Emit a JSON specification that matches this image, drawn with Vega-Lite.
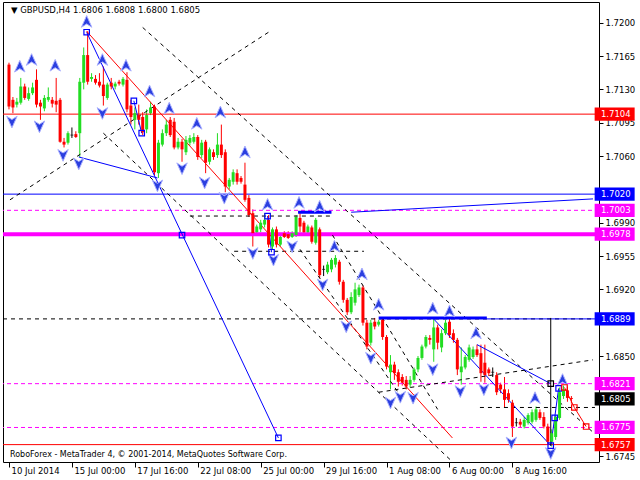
{
"$schema": "https://vega.github.io/schema/vega-lite/v6.json",
"width": 596, "height": 460,
"autosize": {"type": "none"},
"padding": {"left": 3, "top": 2, "right": 41, "bottom": 18},
"background": "white",
"config": {
  "view": {"stroke": "black", "strokeWidth": 1},
  "axis": {"labelFont": "DejaVu Sans", "labelFontSize": 8.5, "labelColor": "black", "tickColor": "black", "domain": false, "grid": false, "labelOverlap": false},
  "axisY": {"labelOverlap": false},
  "axisQuantitative": {"labelOverlap": false}
},
"datasets": {
  "candles": [
{"i":0,"o":1.7156,"h":1.7158,"l":1.7109,"c":1.7112},
{"i":1,"o":1.7119,"h":1.7122,"l":1.7105,"c":1.7111},
{"i":2,"o":1.7114,"h":1.7121,"l":1.7111,"c":1.7117},
{"i":3,"o":1.7116,"h":1.7142,"l":1.7114,"c":1.7133},
{"i":4,"o":1.7133,"h":1.7136,"l":1.7119,"c":1.7121},
{"i":5,"o":1.7120,"h":1.7132,"l":1.7118,"c":1.7126},
{"i":6,"o":1.7126,"h":1.7137,"l":1.7124,"c":1.7132},
{"i":7,"o":1.7140,"h":1.7151,"l":1.7111,"c":1.7114},
{"i":8,"o":1.7116,"h":1.7119,"l":1.7098,"c":1.7112},
{"i":9,"o":1.7110,"h":1.7124,"l":1.7107,"c":1.7121},
{"i":10,"o":1.7119,"h":1.7132,"l":1.7117,"c":1.7122},
{"i":11,"o":1.7119,"h":1.7122,"l":1.7111,"c":1.7115},
{"i":12,"o":1.7118,"h":1.7142,"l":1.7106,"c":1.7114},
{"i":13,"o":1.7119,"h":1.7121,"l":1.7074,"c":1.7075},
{"i":14,"o":1.7075,"h":1.7079,"l":1.7069,"c":1.7072},
{"i":15,"o":1.7074,"h":1.7086,"l":1.7072,"c":1.7084},
{"i":16,"o":1.7082,"h":1.7090,"l":1.7079,"c":1.7082},
{"i":17,"o":1.7083,"h":1.7086,"l":1.7079,"c":1.7080},
{"i":18,"o":1.7084,"h":1.7142,"l":1.7059,"c":1.7138},
{"i":19,"o":1.7137,"h":1.7174,"l":1.7130,"c":1.7166},
{"i":20,"o":1.7166,"h":1.7191,"l":1.7135,"c":1.7138},
{"i":21,"o":1.7141,"h":1.7147,"l":1.7138,"c":1.7143},
{"i":22,"o":1.7141,"h":1.7145,"l":1.7135,"c":1.7137},
{"i":23,"o":1.7138,"h":1.7147,"l":1.7132,"c":1.7134},
{"i":24,"o":1.7135,"h":1.7154,"l":1.7113,"c":1.7123},
{"i":25,"o":1.7121,"h":1.7137,"l":1.7119,"c":1.7135},
{"i":26,"o":1.7137,"h":1.7142,"l":1.7130,"c":1.7133},
{"i":27,"o":1.7133,"h":1.7138,"l":1.7130,"c":1.7136},
{"i":28,"o":1.7138,"h":1.7140,"l":1.7134,"c":1.7136},
{"i":29,"o":1.7135,"h":1.7143,"l":1.7133,"c":1.7141},
{"i":30,"o":1.7140,"h":1.7148,"l":1.7106,"c":1.7109},
{"i":31,"o":1.7113,"h":1.7119,"l":1.7093,"c":1.7101},
{"i":32,"o":1.7098,"h":1.7111,"l":1.7088,"c":1.7105},
{"i":33,"o":1.7103,"h":1.7114,"l":1.7093,"c":1.7098},
{"i":34,"o":1.7101,"h":1.7106,"l":1.7082,"c":1.7085},
{"i":35,"o":1.7088,"h":1.7109,"l":1.7084,"c":1.7103},
{"i":36,"o":1.7105,"h":1.7117,"l":1.7103,"c":1.7111},
{"i":37,"o":1.7112,"h":1.7114,"l":1.7040,"c":1.7043},
{"i":38,"o":1.7042,"h":1.7077,"l":1.7037,"c":1.7074},
{"i":39,"o":1.7072,"h":1.7088,"l":1.7070,"c":1.7084},
{"i":40,"o":1.7084,"h":1.7098,"l":1.7081,"c":1.7093},
{"i":41,"o":1.7098,"h":1.7101,"l":1.7080,"c":1.7082},
{"i":42,"o":1.7096,"h":1.7100,"l":1.7067,"c":1.7069},
{"i":43,"o":1.7069,"h":1.7079,"l":1.7067,"c":1.7075},
{"i":44,"o":1.7075,"h":1.7078,"l":1.7054,"c":1.7067},
{"i":45,"o":1.7064,"h":1.7081,"l":1.7061,"c":1.7077},
{"i":46,"o":1.7074,"h":1.7082,"l":1.7071,"c":1.7079},
{"i":47,"o":1.7075,"h":1.7084,"l":1.7073,"c":1.7080},
{"i":48,"o":1.7080,"h":1.7082,"l":1.7056,"c":1.7059},
{"i":49,"o":1.7061,"h":1.7077,"l":1.7058,"c":1.7074},
{"i":50,"o":1.7075,"h":1.7077,"l":1.7042,"c":1.7053},
{"i":51,"o":1.7054,"h":1.7069,"l":1.7051,"c":1.7067},
{"i":52,"o":1.7064,"h":1.7067,"l":1.7056,"c":1.7059},
{"i":53,"o":1.7061,"h":1.7084,"l":1.7058,"c":1.7072},
{"i":54,"o":1.7072,"h":1.7093,"l":1.7058,"c":1.7061},
{"i":55,"o":1.7064,"h":1.7067,"l":1.7022,"c":1.7028},
{"i":56,"o":1.7028,"h":1.7037,"l":1.7025,"c":1.7035},
{"i":57,"o":1.7033,"h":1.7046,"l":1.7030,"c":1.7043},
{"i":58,"o":1.7042,"h":1.7046,"l":1.7030,"c":1.7033},
{"i":59,"o":1.7037,"h":1.7039,"l":1.7031,"c":1.7033},
{"i":60,"o":1.7030,"h":1.7053,"l":1.7012,"c":1.7014},
{"i":61,"o":1.7016,"h":1.7019,"l":1.6996,"c":1.6998},
{"i":62,"o":1.7000,"h":1.7004,"l":1.6965,"c":1.6979},
{"i":63,"o":1.6980,"h":1.6988,"l":1.6978,"c":1.6986},
{"i":64,"o":1.6983,"h":1.6993,"l":1.6980,"c":1.6990},
{"i":65,"o":1.6988,"h":1.7000,"l":1.6985,"c":1.6993},
{"i":66,"o":1.6993,"h":1.6998,"l":1.6964,"c":1.6967},
{"i":67,"o":1.6965,"h":1.6985,"l":1.6962,"c":1.6983},
{"i":68,"o":1.6983,"h":1.6986,"l":1.6964,"c":1.6967},
{"i":69,"o":1.6967,"h":1.6977,"l":1.6965,"c":1.6975},
{"i":70,"o":1.6979,"h":1.6981,"l":1.6974,"c":1.6975},
{"i":71,"o":1.6978,"h":1.6981,"l":1.6973,"c":1.6974},
{"i":72,"o":1.6975,"h":1.6981,"l":1.6974,"c":1.6979},
{"i":73,"o":1.6977,"h":1.6998,"l":1.6975,"c":1.6996},
{"i":74,"o":1.6995,"h":1.7000,"l":1.6980,"c":1.6986},
{"i":75,"o":1.6990,"h":1.6992,"l":1.6977,"c":1.6980},
{"i":76,"o":1.6980,"h":1.6988,"l":1.6978,"c":1.6986},
{"i":77,"o":1.6985,"h":1.6987,"l":1.6968,"c":1.6970},
{"i":78,"o":1.6969,"h":1.6995,"l":1.6967,"c":1.6993},
{"i":79,"o":1.6983,"h":1.6985,"l":1.6932,"c":1.6935},
{"i":80,"o":1.6941,"h":1.6945,"l":1.6934,"c":1.6941},
{"i":81,"o":1.6938,"h":1.6949,"l":1.6936,"c":1.6946},
{"i":82,"o":1.6941,"h":1.6953,"l":1.6938,"c":1.6951},
{"i":83,"o":1.6946,"h":1.6956,"l":1.6943,"c":1.6953},
{"i":84,"o":1.6949,"h":1.6951,"l":1.6925,"c":1.6928},
{"i":85,"o":1.6928,"h":1.6930,"l":1.6906,"c":1.6909},
{"i":86,"o":1.6909,"h":1.6911,"l":1.6893,"c":1.6896},
{"i":87,"o":1.6896,"h":1.6917,"l":1.6894,"c":1.6912},
{"i":88,"o":1.6906,"h":1.6927,"l":1.6903,"c":1.6920},
{"i":89,"o":1.6914,"h":1.6925,"l":1.6912,"c":1.6922},
{"i":90,"o":1.6922,"h":1.6924,"l":1.6882,"c":1.6885},
{"i":91,"o":1.6885,"h":1.6888,"l":1.6857,"c":1.6860},
{"i":92,"o":1.6864,"h":1.6888,"l":1.6861,"c":1.6885},
{"i":93,"o":1.6886,"h":1.6890,"l":1.6878,"c":1.6881},
{"i":94,"o":1.6883,"h":1.6888,"l":1.6881,"c":1.6886},
{"i":95,"o":1.6888,"h":1.6890,"l":1.6867,"c":1.6870},
{"i":96,"o":1.6870,"h":1.6872,"l":1.6836,"c":1.6839},
{"i":97,"o":1.6833,"h":1.6851,"l":1.6815,"c":1.6841},
{"i":98,"o":1.6841,"h":1.6844,"l":1.6825,"c":1.6832},
{"i":99,"o":1.6833,"h":1.6836,"l":1.6818,"c":1.6823},
{"i":100,"o":1.6828,"h":1.6831,"l":1.6819,"c":1.6822},
{"i":101,"o":1.6825,"h":1.6829,"l":1.6815,"c":1.6818},
{"i":102,"o":1.6820,"h":1.6829,"l":1.6817,"c":1.6825},
{"i":103,"o":1.6825,"h":1.6838,"l":1.6823,"c":1.6836},
{"i":104,"o":1.6836,"h":1.6850,"l":1.6833,"c":1.6848},
{"i":105,"o":1.6848,"h":1.6862,"l":1.6846,"c":1.6860},
{"i":106,"o":1.6860,"h":1.6872,"l":1.6858,"c":1.6870},
{"i":107,"o":1.6869,"h":1.6872,"l":1.6862,"c":1.6867},
{"i":108,"o":1.6857,"h":1.6890,"l":1.6844,"c":1.6880},
{"i":109,"o":1.6880,"h":1.6883,"l":1.6857,"c":1.6864},
{"i":110,"o":1.6859,"h":1.6878,"l":1.6854,"c":1.6874},
{"i":111,"o":1.6874,"h":1.6888,"l":1.6872,"c":1.6885},
{"i":112,"o":1.6886,"h":1.6890,"l":1.6869,"c":1.6872},
{"i":113,"o":1.6874,"h":1.6878,"l":1.6864,"c":1.6867},
{"i":114,"o":1.6867,"h":1.6869,"l":1.6830,"c":1.6836},
{"i":115,"o":1.6833,"h":1.6859,"l":1.6820,"c":1.6839},
{"i":116,"o":1.6838,"h":1.6851,"l":1.6836,"c":1.6849},
{"i":117,"o":1.6846,"h":1.6862,"l":1.6844,"c":1.6859},
{"i":118,"o":1.6849,"h":1.6860,"l":1.6847,"c":1.6857},
{"i":119,"o":1.6857,"h":1.6862,"l":1.6849,"c":1.6851},
{"i":120,"o":1.6853,"h":1.6862,"l":1.6823,"c":1.6832},
{"i":121,"o":1.6843,"h":1.6862,"l":1.6822,"c":1.6830},
{"i":122,"o":1.6836,"h":1.6838,"l":1.6829,"c":1.6832},
{"i":123,"o":1.6833,"h":1.6838,"l":1.6828,"c":1.6833},
{"i":124,"o":1.6830,"h":1.6833,"l":1.6809,"c":1.6812},
{"i":125,"o":1.6820,"h":1.6822,"l":1.6811,"c":1.6815},
{"i":126,"o":1.6815,"h":1.6828,"l":1.6796,"c":1.6804},
{"i":127,"o":1.6811,"h":1.6815,"l":1.6801,"c":1.6804},
{"i":128,"o":1.6801,"h":1.6804,"l":1.6765,"c":1.6776},
{"i":129,"o":1.6780,"h":1.6785,"l":1.6776,"c":1.6780},
{"i":130,"o":1.6781,"h":1.6784,"l":1.6775,"c":1.6778},
{"i":131,"o":1.6776,"h":1.6786,"l":1.6774,"c":1.6783},
{"i":132,"o":1.6780,"h":1.6790,"l":1.6778,"c":1.6788},
{"i":133,"o":1.6781,"h":1.6794,"l":1.6779,"c":1.6791},
{"i":134,"o":1.6783,"h":1.6797,"l":1.6781,"c":1.6794},
{"i":135,"o":1.6791,"h":1.6794,"l":1.6783,"c":1.6785},
{"i":136,"o":1.6786,"h":1.6791,"l":1.6774,"c":1.6776},
{"i":137,"o":1.6776,"h":1.6779,"l":1.6757,"c":1.6760},
{"i":138,"o":1.6760,"h":1.6773,"l":1.6755,"c":1.6769},
{"i":139,"o":1.6765,"h":1.6788,"l":1.6762,"c":1.6786},
{"i":140,"o":1.6785,"h":1.6817,"l":1.6783,"c":1.6812},
{"i":141,"o":1.6808,"h":1.6819,"l":1.6805,"c":1.6815},
{"i":142,"o":1.6814,"h":1.6818,"l":1.6802,"c":1.6806},
{"i":143,"o":1.6806,"h":1.6808,"l":1.6800,"c":1.6805}
  ]
},
"layer": [
  {
    "data": {"name": "candles"},
    "mark": {"type": "rule", "strokeWidth": 1},
    "encoding": {
      "x": {"field": "i", "type": "quantitative", "title": null,
            "scale": {"domain": [-0.25, 148.75], "nice": false, "zero": false},
            "axis": {"orient": "bottom", "values": [0,16,32,48,64,80,96,112,128], "tickSize": 5, "labelPadding": -1, "labelAlign": "left", "labelOffset": 2, "labelFlush": false, "labelOverlap": false, "labelBound": false,
                     "labelExpr": "['10 Jul 2014','15 Jul 00:00','17 Jul 16:00','22 Jul 08:00','25 Jul 00:00','29 Jul 16:00','1 Aug 08:00','6 Aug 00:00','8 Aug 16:00'][round(datum.value/16)]"}},
      "y": {"field": "l", "type": "quantitative", "title": null,
            "scale": {"domain": [1.673875, 1.722173], "nice": false, "zero": false},
            "axis": {"orient": "right", "values": [1.6745,1.685,1.692,1.6955,1.699,1.706,1.7095,1.713,1.7165,1.72], "format": ".4f", "tickSize": 4, "labelPadding": 2, "labelFlush": false, "labelOverlap": false, "labelSeparation": 0}},
      "y2": {"field": "h"},
      "color": {"condition": [{"test": "datum.c == datum.o", "value": "black"}, {"test": "datum.c > datum.o", "value": "#22dd22"}], "value": "#ff0000"}
    }
  },
  {
    "data": {"values": [{"p": 1.7104}, {"p": 1.6757}]},
    "mark": {"type": "rule", "color": "#ff0000", "strokeWidth": 1},
    "encoding": {"y": {"field": "p", "type": "quantitative", "title": null}}
  },
  {
    "data": {"values": [{"p": 1.7020}]},
    "mark": {"type": "rule", "color": "#0000ff", "strokeWidth": 1},
    "encoding": {"y": {"field": "p", "type": "quantitative", "title": null}}
  },
  {
    "data": {"values": [{"p": 1.7003}, {"p": 1.6821}, {"p": 1.6775}]},
    "mark": {"type": "rule", "color": "#ff00ff", "strokeWidth": 1, "strokeDash": [4, 3]},
    "encoding": {"y": {"field": "p", "type": "quantitative", "title": null}}
  },
  {
    "data": {"values": [{"p": 1.6978}]},
    "mark": {"type": "rule", "color": "#ff00ff", "strokeWidth": 4},
    "encoding": {"y": {"field": "p", "type": "quantitative", "title": null}}
  },
  {
    "data": {"values": [{"p": 1.6889}]},
    "mark": {"type": "rule", "color": "black", "strokeWidth": 1, "strokeDash": [4, 4]},
    "encoding": {"y": {"field": "p", "type": "quantitative", "title": null}}
  },
  {
    "data": {"values": [
      {"i1": 0.25, "p1": 1.7014, "i2": 66, "p2": 1.7190},
      {"i1": 34, "p1": 1.7195, "i2": 148.5, "p2": 1.6770},
      {"i1": 24, "p1": 1.7084, "i2": 112.75, "p2": 1.6739},
      {"i1": 74, "p1": 1.6962, "i2": 100.25, "p2": 1.6804},
      {"i1": 82.25, "p1": 1.6977, "i2": 109, "p2": 1.6794},
      {"i1": 94, "p1": 1.6812, "i2": 148.5, "p2": 1.6846},
      {"i1": 46, "p1": 1.6997, "i2": 82.25, "p2": 1.6997},
      {"i1": 57.25, "p1": 1.6960, "i2": 90.25, "p2": 1.6960},
      {"i1": 119.75, "p1": 1.6796, "i2": 149, "p2": 1.6796}
    ]},
    "mark": {"type": "rule", "color": "black", "strokeWidth": 1, "strokeDash": [4, 4], "clip": true},
    "encoding": {
      "x": {"field": "i1", "type": "quantitative", "title": null}, "x2": {"field": "i2"},
      "y": {"field": "p1", "type": "quantitative", "title": null}, "y2": {"field": "p2"}
    }
  },
  {
    "data": {"values": [
      {"i1": 19.75, "p1": 1.7190, "i2": 68.5, "p2": 1.6764},
      {"i1": 17.75, "p1": 1.7059, "i2": 37.75, "p2": 1.7037},
      {"i1": 31.75, "p1": 1.7118, "i2": 33.75, "p2": 1.7084},
      {"i1": 87, "p1": 1.7001, "i2": 148.5, "p2": 1.7015},
      {"i1": 107.75, "p1": 1.6890, "i2": 137.75, "p2": 1.6756},
      {"i1": 119, "p1": 1.6862, "i2": 137.75, "p2": 1.6821},
      {"i1": 121.5, "p1": 1.6889, "i2": 149, "p2": 1.6889},
      {"i1": 65.75, "p1": 1.6997, "i2": 66.75, "p2": 1.6959},
      {"i1": 137.75, "p1": 1.6756, "i2": 138.75, "p2": 1.6785},
      {"i1": 138.75, "p1": 1.6785, "i2": 139.75, "p2": 1.6816}
    ]},
    "mark": {"type": "rule", "color": "#0000ff", "strokeWidth": 1, "clip": true},
    "encoding": {
      "x": {"field": "i1", "type": "quantitative", "title": null}, "x2": {"field": "i2"},
      "y": {"field": "p1", "type": "quantitative", "title": null}, "y2": {"field": "p2"}
    }
  },
  {
    "data": {"values": [
      {"i1": 73.5, "p1": 1.7001, "i2": 82, "p2": 1.7001},
      {"i1": 94, "p1": 1.6890, "i2": 121.5, "p2": 1.6890}
    ]},
    "mark": {"type": "rule", "color": "#0000ff", "strokeWidth": 3, "clip": true},
    "encoding": {
      "x": {"field": "i1", "type": "quantitative", "title": null}, "x2": {"field": "i2"},
      "y": {"field": "p1", "type": "quantitative", "title": null}, "y2": {"field": "p2"}
    }
  },
  {
    "data": {"values": [
      {"i1": 137.75, "p1": 1.6890, "i2": 137.75, "p2": 1.6756}
    ]},
    "mark": {"type": "rule", "color": "black", "strokeWidth": 1, "clip": true},
    "encoding": {
      "x": {"field": "i1", "type": "quantitative", "title": null}, "x2": {"field": "i2"},
      "y": {"field": "p1", "type": "quantitative", "title": null}, "y2": {"field": "p2"}
    }
  },
  {
    "data": {"values": [
      {"i1": 19.75, "p1": 1.7191, "i2": 112.75, "p2": 1.6764},
      {"i1": 141.25, "p1": 1.6817, "i2": 143.75, "p2": 1.6796},
      {"i1": 143.75, "p1": 1.6796, "i2": 146.75, "p2": 1.6776}
    ]},
    "mark": {"type": "rule", "color": "#ff0000", "strokeWidth": 1, "clip": true},
    "encoding": {
      "x": {"field": "i1", "type": "quantitative", "title": null}, "x2": {"field": "i2"},
      "y": {"field": "p1", "type": "quantitative", "title": null}, "y2": {"field": "p2"}
    }
  },
  {
    "data": {"name": "candles"},
    "mark": {"type": "bar", "size": 3},
    "encoding": {
      "x": {"field": "i", "type": "quantitative", "title": null},
      "y": {"field": "o", "type": "quantitative", "title": null},
      "y2": {"field": "c"},
      "color": {"condition": [{"test": "datum.c > datum.o", "value": "#22dd22"}], "value": "#ff0000"}
    }
  },
  {
    "data": {"name": "candles"},
    "transform": [{"filter": "datum.o == datum.c"}],
    "mark": {"type": "tick", "orient": "horizontal", "size": 3, "thickness": 1, "color": "black"},
    "encoding": {
      "x": {"field": "i", "type": "quantitative", "title": null},
      "y": {"field": "o", "type": "quantitative", "title": null}
    }
  },
  {
    "data": {"values": [
      {"i": 2.75, "p": 1.7154}, {"i": 5.75, "p": 1.7161}, {"i": 11.75, "p": 1.7155}, {"i": 19.75, "p": 1.7201},
      {"i": 23.75, "p": 1.7161}, {"i": 29.75, "p": 1.7155}, {"i": 35.75, "p": 1.7128}, {"i": 40.75, "p": 1.7110},
      {"i": 47.75, "p": 1.7094}, {"i": 53.75, "p": 1.7106}, {"i": 60, "p": 1.7064}, {"i": 65.75, "p": 1.7009},
      {"i": 73.75, "p": 1.7011}, {"i": 79, "p": 1.7007}, {"i": 82.75, "p": 1.6965}, {"i": 89.75, "p": 1.6936},
      {"i": 94, "p": 1.6904}, {"i": 107.75, "p": 1.6900}, {"i": 112, "p": 1.6897}, {"i": 118.75, "p": 1.6874},
      {"i": 133.75, "p": 1.6806}, {"i": 140.75, "p": 1.6825}
    ]},
    "mark": {"type": "point", "shape": "M0,-1 L0.85,0.9 L0,0.35 L-0.85,0.9 Z", "size": 150, "filled": true, "fill": "#2b3fe0", "stroke": "#aab0ff", "strokeWidth": 1, "opacity": 1},
    "encoding": {
      "x": {"field": "i", "type": "quantitative", "title": null},
      "y": {"field": "p", "type": "quantitative", "title": null}
    }
  },
  {
    "data": {"values": [
      {"i": 0.75, "p": 1.7096}, {"i": 7.75, "p": 1.7091}, {"i": 13.75, "p": 1.7061}, {"i": 17.75, "p": 1.7052},
      {"i": 23.75, "p": 1.7105}, {"i": 37.75, "p": 1.7029}, {"i": 44, "p": 1.7047}, {"i": 49.75, "p": 1.7032},
      {"i": 54.75, "p": 1.7016}, {"i": 62, "p": 1.6958}, {"i": 67.25, "p": 1.6951}, {"i": 72, "p": 1.6965},
      {"i": 79.75, "p": 1.6925}, {"i": 85.75, "p": 1.6881}, {"i": 92, "p": 1.6848}, {"i": 97, "p": 1.6801},
      {"i": 99.5, "p": 1.6807}, {"i": 102.75, "p": 1.6806}, {"i": 107.75, "p": 1.6836}, {"i": 114.75, "p": 1.6813},
      {"i": 120.75, "p": 1.6815}, {"i": 127.75, "p": 1.6759}, {"i": 137.75, "p": 1.6748}
    ]},
    "mark": {"type": "point", "shape": "M0,1 L0.85,-0.9 L0,-0.35 L-0.85,-0.9 Z", "size": 150, "filled": true, "fill": "#2b3fe0", "stroke": "#aab0ff", "strokeWidth": 1, "opacity": 1},
    "encoding": {
      "x": {"field": "i", "type": "quantitative", "title": null},
      "y": {"field": "p", "type": "quantitative", "title": null}
    }
  },
  {
    "data": {"values": [
      {"i": 19.75, "p": 1.7190}, {"i": 31.75, "p": 1.7118}, {"i": 33.75, "p": 1.7084}, {"i": 44, "p": 1.6977},
      {"i": 68.5, "p": 1.6764}, {"i": 65.75, "p": 1.6997}, {"i": 66.75, "p": 1.6959}, {"i": 137.75, "p": 1.6756},
      {"i": 138.75, "p": 1.6785}, {"i": 139.75, "p": 1.6816}
    ]},
    "mark": {"type": "point", "shape": "square", "size": 30, "filled": false, "color": "#0000ff", "strokeWidth": 1.2, "opacity": 1},
    "encoding": {
      "x": {"field": "i", "type": "quantitative", "title": null},
      "y": {"field": "p", "type": "quantitative", "title": null}
    }
  },
  {
    "data": {"values": [{"i": 137.75, "p": 1.6821}]},
    "mark": {"type": "point", "shape": "square", "size": 30, "filled": false, "color": "black", "strokeWidth": 1.2, "opacity": 1},
    "encoding": {
      "x": {"field": "i", "type": "quantitative", "title": null},
      "y": {"field": "p", "type": "quantitative", "title": null}
    }
  },
  {
    "data": {"values": [{"i": 141.25, "p": 1.6817}, {"i": 143.75, "p": 1.6796}, {"i": 146.75, "p": 1.6776}]},
    "mark": {"type": "point", "shape": "square", "size": 30, "filled": false, "color": "#ff0000", "strokeWidth": 1.2, "opacity": 1},
    "encoding": {
      "x": {"field": "i", "type": "quantitative", "title": null},
      "y": {"field": "p", "type": "quantitative", "title": null}
    }
  },
  {
    "data": {"values": [{"i": 0.5, "p": 1.7213, "t": "▼  GBPUSD,H4  1.6806 1.6808 1.6800 1.6805"}]},
    "mark": {"type": "text", "align": "left", "baseline": "middle", "font": "DejaVu Sans", "fontSize": 8.5, "color": "black"},
    "encoding": {
      "x": {"field": "i", "type": "quantitative", "title": null},
      "y": {"field": "p", "type": "quantitative", "title": null},
      "text": {"field": "t"}
    }
  },
  {
    "data": {"values": [{"i": 0.25, "p": 1.67462, "t": "RoboForex - MetaTrader 4, © 2001-2014, MetaQuotes Software Corp."}]},
    "mark": {"type": "text", "align": "left", "baseline": "middle", "font": "DejaVu Sans", "fontSize": 8, "color": "black"},
    "encoding": {
      "x": {"field": "i", "type": "quantitative", "title": null},
      "y": {"field": "p", "type": "quantitative", "title": null},
      "text": {"field": "t"}
    }
  },
  {
    "data": {"values": [{"i": 154, "p": 1.7104}, {"i": 154, "p": 1.6757}]},
    "mark": {"type": "point", "shape": "M-1,-0.33 L1,-0.33 L1,0.33 L-1,0.33 Z", "size": 1600, "filled": true, "color": "#ff0000", "opacity": 1, "strokeWidth": 0},
    "encoding": {"x": {"field": "i", "type": "quantitative", "title": null}, "y": {"field": "p", "type": "quantitative", "title": null}}
  },
  {
    "data": {"values": [{"i": 154, "p": 1.7020}, {"i": 154, "p": 1.6889}]},
    "mark": {"type": "point", "shape": "M-1,-0.33 L1,-0.33 L1,0.33 L-1,0.33 Z", "size": 1600, "filled": true, "color": "#0000ff", "opacity": 1, "strokeWidth": 0},
    "encoding": {"x": {"field": "i", "type": "quantitative", "title": null}, "y": {"field": "p", "type": "quantitative", "title": null}}
  },
  {
    "data": {"values": [{"i": 154, "p": 1.7003}, {"i": 154, "p": 1.6978}, {"i": 154, "p": 1.6821}, {"i": 154, "p": 1.6775}]},
    "mark": {"type": "point", "shape": "M-1,-0.33 L1,-0.33 L1,0.33 L-1,0.33 Z", "size": 1600, "filled": true, "color": "#ff00ff", "opacity": 1, "strokeWidth": 0},
    "encoding": {"x": {"field": "i", "type": "quantitative", "title": null}, "y": {"field": "p", "type": "quantitative", "title": null}}
  },
  {
    "data": {"values": [{"i": 154, "p": 1.6805}]},
    "mark": {"type": "point", "shape": "M-1,-0.33 L1,-0.33 L1,0.33 L-1,0.33 Z", "size": 1600, "filled": true, "color": "black", "opacity": 1, "strokeWidth": 0},
    "encoding": {"x": {"field": "i", "type": "quantitative", "title": null}, "y": {"field": "p", "type": "quantitative", "title": null}}
  },
  {
    "data": {"values": [
      {"i": 150.5, "p": 1.7104, "t": "1.7104"}, {"i": 150.5, "p": 1.7020, "t": "1.7020"}, {"i": 150.5, "p": 1.7003, "t": "1.7003"},
      {"i": 150.5, "p": 1.6978, "t": "1.6978"}, {"i": 150.5, "p": 1.6889, "t": "1.6889"}, {"i": 150.5, "p": 1.6821, "t": "1.6821"},
      {"i": 150.5, "p": 1.6805, "t": "1.6805"}, {"i": 150.5, "p": 1.6775, "t": "1.6775"}, {"i": 150.5, "p": 1.6757, "t": "1.6757"}
    ]},
    "mark": {"type": "text", "align": "left", "baseline": "middle", "font": "DejaVu Sans", "fontSize": 8.5, "color": "white"},
    "encoding": {
      "x": {"field": "i", "type": "quantitative", "title": null},
      "y": {"field": "p", "type": "quantitative", "title": null},
      "text": {"field": "t"}
    }
  }
]
}
